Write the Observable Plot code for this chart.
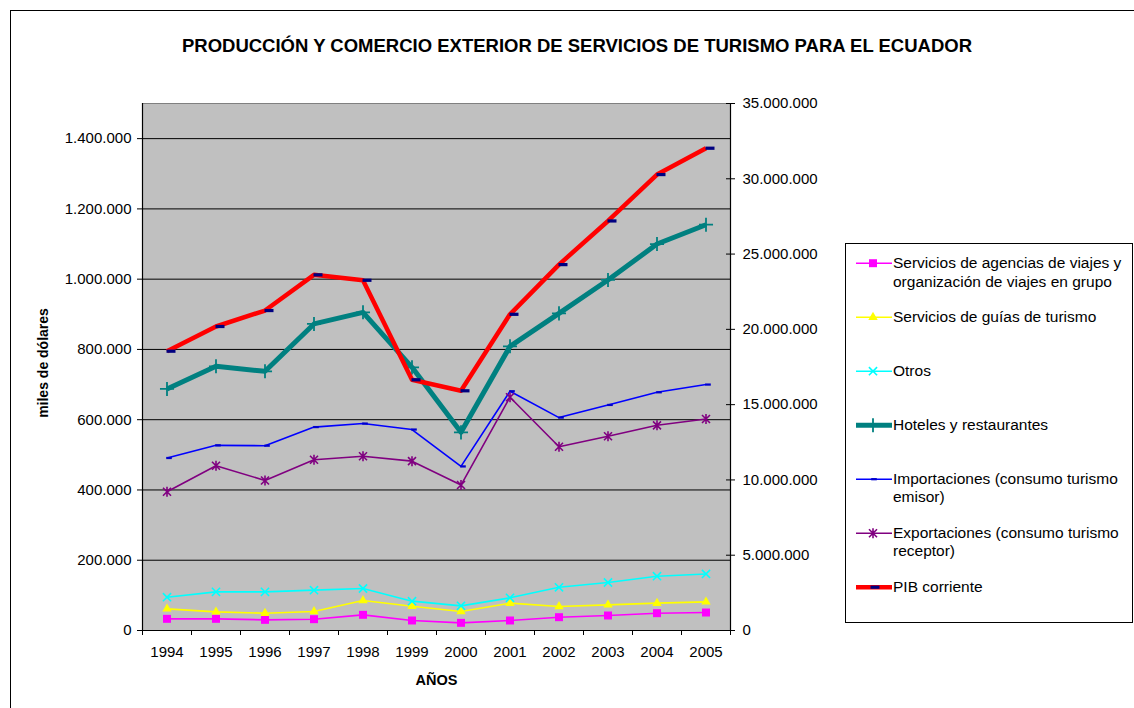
<!DOCTYPE html>
<html><head><meta charset="utf-8">
<script src="https://cdn.jsdelivr.net/npm/d3@7"></script>
<script src="https://cdn.jsdelivr.net/npm/@observablehq/plot@0.6"></script>
<style>
html,body{margin:0;padding:0;background:#fff;}
#page{position:relative;width:1134px;height:708px;overflow:hidden;font-family:"Liberation Sans",Arial,sans-serif;color:#000;}
#border{position:absolute;left:10px;top:10px;width:1200px;height:800px;border:1px solid #000;box-sizing:border-box;}
#title{position:absolute;left:577px;top:36px;transform:translateX(-50%);white-space:nowrap;font-weight:bold;font-size:18.5px;line-height:20px;}
#chart{position:absolute;left:0;top:0;}
#legend{position:absolute;left:845px;top:243px;width:288px;height:380px;border:1px solid #000;box-sizing:border-box;background:#fff;}
.entry{position:absolute;left:0;width:286px;height:40px;}
.entry svg{position:absolute;left:9px;top:0;overflow:visible;}
.entry div{position:absolute;left:47px;top:0;white-space:pre;font-size:15.5px;line-height:18.4px;}
</style></head>
<body>
<div id="page">
  <div id="border"></div>
  <div id="chart"></div>
  <div id="title">PRODUCCIÓN Y COMERCIO EXTERIOR DE SERVICIOS DE TURISMO PARA EL ECUADOR</div>
  <div id="legend"></div>
</div>
<script>
// ---- Data ----
const years = [1994, 1995, 1996, 1997, 1998, 1999, 2000, 2001, 2002, 2003, 2004, 2005];
const agencias = [33200, 33200, 30300, 32200, 44600, 28500, 21800, 28500, 37900, 42700, 49300, 51200];
const guias = [61600, 53000, 49300, 54000, 85400, 69000, 54000, 77800, 68300, 73000, 77800, 81600];
const otros = [94800, 110000, 110000, 114800, 119500, 83500, 70200, 93000, 123000, 136600, 154600, 161000];
const hoteles = [687600, 752000, 737700, 872600, 905600, 749000, 564000, 808800, 902700, 997700, 1100000, 1155000];
const importaciones = [491000, 527000, 526000, 579000, 589000, 572000, 467000, 681000, 606000, 642000, 678000, 700000];
const exportaciones = [395000, 469000, 427000, 486000, 496000, 482000, 414000, 664000, 523000, 553000, 584000, 602000];
const pib = [18550000, 20190000, 21250000, 23620000, 23260000, 16650000, 15920000, 21000000, 24300000, 27200000, 30280000, 32030000];

const leftTicks = [0, 200000, 400000, 600000, 800000, 1000000, 1200000, 1400000];
const rightTicks = [0, 5000000, 10000000, 15000000, 20000000, 25000000, 30000000, 35000000];
const leftMax = 1500000, rightMax = 35000000;

const seriesNames = [
  "Servicios de agencias de viajes y\norganización de viajes en grupo",
  "Servicios de guías de turismo",
  "Otros",
  "Hoteles y restaurantes",
  "Importaciones (consumo turismo\nemisor)",
  "Exportaciones (consumo turismo\nreceptor)",
  "PIB corriente"
];
const yLabel = "miles de dólares";
const xLabel = "AÑOS";

// ---- Helpers ----
const k = leftMax / rightMax; // secondary axis -> primary axis
const fmt = d3.formatLocale({decimal: ",", thousands: ".", grouping: [3], currency: ["$", ""]}).format(",d");

const pibDash = {draw(ctx, size) { const r = Math.sqrt(size / Math.PI); ctx.rect(-r, -r * 0.36, 2 * r, r * 0.72); }};
const impDash = {draw(ctx, size) { const r = Math.sqrt(size / Math.PI); ctx.rect(-r, -r * 0.4, 2 * r, r * 0.8); }};
const asterisk = {draw(ctx, size) {
  const r = Math.sqrt(size / Math.PI), a = r * 0.8;
  ctx.moveTo(-a, -a); ctx.lineTo(a, a);
  ctx.moveTo(-a, a); ctx.lineTo(a, -a);
  ctx.moveTo(0, -r); ctx.lineTo(0, r);
}};

const series = [
  {name: seriesNames[0], values: agencias, color: "#FF00FF", width: 1.6, symbol: "square", r: 4.5, fill: "#FF00FF", stroke: "none", sw: 0, dx: 0},
  {name: seriesNames[1], values: guias, color: "#FFFF00", width: 1.6, symbol: "triangle", r: 3.5, fill: "#FFFF00", stroke: "none", sw: 0, dx: 0},
  {name: seriesNames[2], values: otros, color: "#00FFFF", width: 1.6, symbol: "times", r: 3.8, fill: "none", stroke: "#00FFFF", sw: 1.6, dx: 0},
  {name: seriesNames[3], values: hoteles, color: "#008080", width: 5, symbol: "plus", r: 4.6, fill: "none", stroke: "#008080", sw: 1.8, dx: 0},
  {name: seriesNames[4], values: importaciones, color: "#0000FF", width: 1.6, symbol: impDash, r: 2.8, fill: "#0000CC", stroke: "none", sw: 0, dx: 2},
  {name: seriesNames[5], values: exportaciones, color: "#800080", width: 1.6, symbol: asterisk, r: 5, fill: "none", stroke: "#800080", sw: 1.6, dx: 0},
  {name: seriesNames[6], values: pib, secondary: true, color: "#FF0000", width: 4.5, symbol: pibDash, r: 4.5, fill: "#000080", stroke: "none", sw: 0, dx: 4}
];

const boundaries = d3.range(years[0] - 0.5, years[years.length - 1] + 1, 1);

const marks = [
  Plot.frame({fill: "#C0C0C0", stroke: "none"}),
  Plot.ruleY(leftTicks.filter(d => d > 0), {stroke: "#000", strokeWidth: 1}),
  Plot.frame({stroke: "#808080", fill: "none"}),
  Plot.ruleX([boundaries[0], boundaries[boundaries.length - 1]], {stroke: "#000", strokeWidth: 1.2}),
  Plot.ruleY([0], {stroke: "#000", strokeWidth: 1.2})
];

for (const s of series) {
  const rows = years.map((year, i) => ({year, value: s.secondary ? s.values[i] * k : s.values[i]}));
  marks.push(Plot.line(rows, {x: "year", y: "value", stroke: s.color, strokeWidth: s.width, strokeLinejoin: "round", strokeLinecap: "butt"}));
  marks.push(Plot.dot(rows, {x: "year", y: "value", symbol: s.symbol, r: s.r, fill: s.fill, stroke: s.stroke, strokeWidth: s.sw, dx: s.dx}));
}

marks.push(
  Plot.axisY(leftTicks, {anchor: "left", tickSize: 5, tickPadding: 6, tickFormat: fmt, label: null}),
  Plot.axisY(rightTicks.map(v => v * k), {anchor: "right", tickSize: 9, dx: -5, tickFormat: () => "", label: null}),
  Plot.axisY(rightTicks.map(v => v * k), {anchor: "right", tickSize: 0, tickPadding: 12, tickFormat: v => fmt(Math.round(v / k)), label: null}),
  Plot.axisX(boundaries, {tickSize: 5, tickFormat: () => "", label: null}),
  Plot.axisX(years, {tickSize: 0, tickPadding: 16, tickFormat: d => String(d), label: null}),
  Plot.text([yLabel], {text: d => d, frameAnchor: "left", dx: -99, dy: -4, rotate: -90, textAnchor: "middle", lineAnchor: "middle", fontWeight: "bold", fontSize: 14}),
  Plot.text([xLabel], {text: d => d, frameAnchor: "bottom", dy: 50, textAnchor: "middle", lineAnchor: "middle", fontWeight: "bold", fontSize: 14.5})
);

const chart = Plot.plot({
  width: 1134,
  height: 708,
  marginLeft: 142,
  marginRight: 404,
  marginTop: 103,
  marginBottom: 78,
  x: {type: "linear", domain: [boundaries[0], boundaries[boundaries.length - 1]]},
  y: {type: "linear", domain: [0, leftMax]},
  style: {fontFamily: "'Liberation Sans', Arial, sans-serif", fontSize: "15px", background: "transparent", overflow: "visible", color: "#000"},
  marks
});
document.getElementById("chart").appendChild(chart);

// ---- Legend ----
const legend = d3.select("#legend");
series.forEach((s, i) => {
  const top = 10.1 + i * 53.9;
  const e = legend.append("div").attr("class", "entry").style("top", top + "px");
  const svg = e.append("svg").attr("width", 38).attr("height", 18.4);
  svg.append("line").attr("x1", 1).attr("x2", 37).attr("y1", 9.2).attr("y2", 9.2)
    .attr("stroke", s.color).attr("stroke-width", Math.min(s.width, 5));
  const symType = typeof s.symbol === "string"
    ? {square: d3.symbolSquare, triangle: d3.symbolTriangle, times: d3.symbolTimes, plus: d3.symbolPlus}[s.symbol]
    : s.symbol;
  svg.append("path").attr("transform", `translate(${18 + s.dx * 0.5},9.2)`)
    .attr("d", d3.symbol(symType, Math.PI * s.r * s.r)())
    .attr("fill", s.fill).attr("stroke", s.stroke).attr("stroke-width", s.sw);
  e.append("div").text(s.name);
});
</script>
</body></html>
